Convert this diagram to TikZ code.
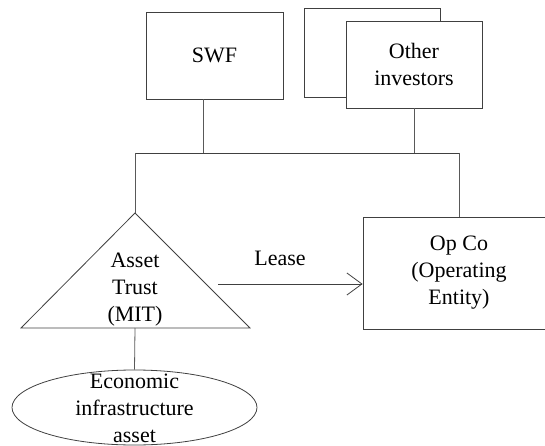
\documentclass[tikz,border=0pt]{standalone}
\usepackage{fontspec}
\setmainfont{Liberation Serif}
\usetikzlibrary{shapes.geometric,arrows.meta}

\begin{document}
\begin{tikzpicture}[x=1pt, y=-1pt,
    line width=0.8pt, draw=black!75,
    txt/.style={align=center, inner sep=0pt, font=\fontsize{22}{27}\selectfont},
    box/.style={txt, rectangle, draw, fill=white},
    link/.style={draw=black!65}
]
\useasboundingbox (0,0) rectangle (545,446);

% Investors
\node[box, minimum width=137, minimum height=87] (swf) at (214.5,55.5) {SWF};
\node[box, minimum width=136, minimum height=89] (backbox) at (372,52.5) {};
\node[box, minimum width=136, minimum height=87] (others) at (414,64.5) {Other\\investors};

% Bus
\coordinate (busL) at (135,153);
\coordinate (busR) at (459,153);
\coordinate (swfdrop) at (203,153);
\draw[link] (swf.south -| swfdrop) -- (swfdrop);
\draw[link] (others.south) -- (others.south |- busR);
\draw (busL) -- (busR);

% Asset trust (triangle)
\coordinate (apex) at (135,213);
\coordinate (baseL) at (21,328);
\coordinate (baseR) at (250,328);
\coordinate (baseM) at (135,328);
\draw (apex) -- (baseL) -- (baseR) -- cycle;
\node[txt] (trust) at (135,290) {Asset\\Trust\\(MIT)};
\draw[link] (busL) -- (apex);

% Operating entity
\node[box, minimum width=192, minimum height=112] (opco) at (459,273) {Op Co\\(Operating\\Entity)};
\draw[link] (busR) -- (opco.north);

% Lease
\coordinate (leaseFrom) at (218,284);
\draw[-{Straight Barb[length=15pt, width=22pt]}] (leaseFrom) -- (leaseFrom -| opco.west);
\node[txt, anchor=base] (lease) at (280,265) {Lease};

% Asset
\node[txt, ellipse, draw, minimum width=245, minimum height=75] (asset) at (134.5,407.5) {};
\node[txt] (assettxt) at (134.5,408) {Economic\\infrastructure\\asset};
\draw[link] (baseM) -- (asset.north);
\end{tikzpicture}
\end{document}
